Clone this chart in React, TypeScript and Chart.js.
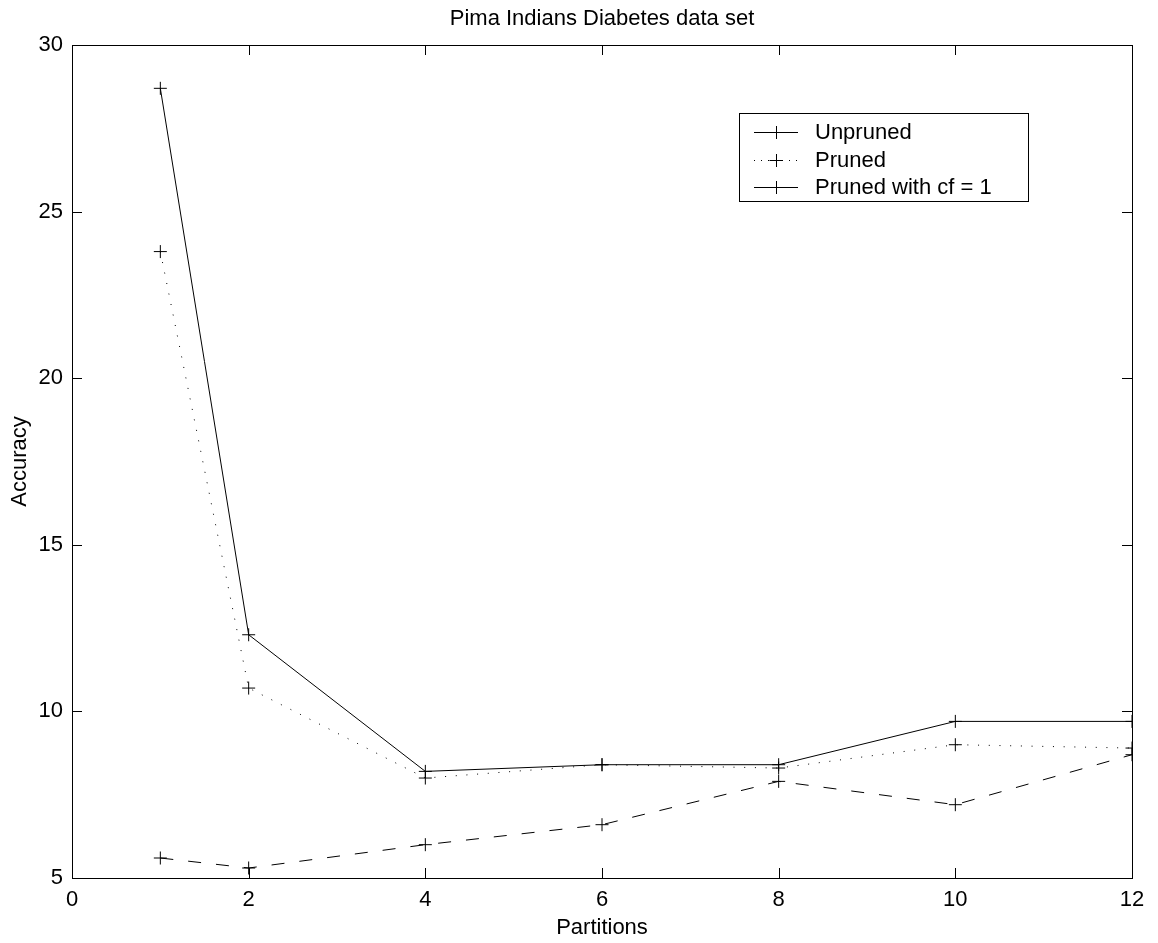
import React, { useEffect, useRef } from "react";
import { Chart, registerables } from "chart.js";

Chart.register(...registerables);

const partitions = [1, 2, 4, 6, 8, 10, 12];
const unpruned = [28.7, 12.3, 8.2, 8.4, 8.4, 9.7, 9.7];
const pruned = [23.8, 10.7, 8.0, 8.4, 8.3, 9.0, 8.9];
const prunedCf1 = [5.6, 5.3, 6.0, 6.6, 7.9, 7.2, 8.7];

const seriesNames = ["Unpruned", "Pruned", "Pruned with cf = 1"];
const xTicks = [0, 2, 4, 6, 8, 10, 12];
const yTicks = [5, 10, 15, 20, 25, 30];

const chartTitle = "Pima Indians Diabetes data set";
const xTitle = "Partitions";
const yTitle = "Accuracy";

const FONT = '"Liberation Sans", Arial, Helvetica, sans-serif';
const FS = 22;

const dashes = [[], [1, 9.7], [13, 15]];
const legendDashes = [[], [1, 6], []];

const framePlugin = {
  id: "matlabFrame",
  afterDraw(chart: any) {
    const { ctx, chartArea, scales } = chart;
    const { left, right, top, bottom } = chartArea;
    ctx.save();
    ctx.strokeStyle = "#000";
    ctx.lineWidth = 1;
    ctx.setLineDash([]);
    const tl = 10;
    ctx.beginPath();
    for (const v of xTicks) {
      const x = Math.round(scales.x.getPixelForValue(v)) + 0.5;
      ctx.moveTo(x, bottom);
      ctx.lineTo(x, bottom - tl);
      ctx.moveTo(x, top);
      ctx.lineTo(x, top + tl);
    }
    for (const v of yTicks) {
      const y = Math.round(scales.y.getPixelForValue(v)) + 0.5;
      ctx.moveTo(left, y);
      ctx.lineTo(left + tl, y);
      ctx.moveTo(right, y);
      ctx.lineTo(right - tl, y);
    }
    ctx.stroke();
    ctx.strokeRect(Math.round(left) + 0.5, Math.round(top) + 0.5, Math.round(right - left), Math.round(bottom - top));

    ctx.fillStyle = "#000";
    ctx.font = `${FS}px ${FONT}`;
    ctx.textAlign = "center";
    ctx.textBaseline = "middle";
    ctx.fillText(chartTitle, (left + right) / 2, 19);

    const bx = 739.5, by = 113.5, bw = 289, bh = 88;
    ctx.fillStyle = "#fff";
    ctx.fillRect(bx, by, bw, bh);
    ctx.strokeStyle = "#000";
    ctx.lineWidth = 1;
    ctx.strokeRect(bx, by, bw, bh);
    const rows = [132, 160, 187];
    chart.data.datasets.forEach((ds: any, i: number) => {
      const y = rows[i] + 0.5;
      ctx.save();
      ctx.setLineDash(legendDashes[i]);
      ctx.beginPath();
      ctx.moveTo(754, y);
      ctx.lineTo(798, y);
      ctx.stroke();
      ctx.restore();
      ctx.beginPath();
      ctx.moveTo(776 - 6.5, y);
      ctx.lineTo(776 + 6.5, y);
      ctx.moveTo(776.5, y - 6.5);
      ctx.lineTo(776.5, y + 6.5);
      ctx.stroke();
      ctx.fillStyle = "#000";
      ctx.font = `${FS}px ${FONT}`;
      ctx.textAlign = "left";
      ctx.textBaseline = "middle";
      ctx.fillText(ds.label, 815, rows[i] + 1);
    });
    ctx.restore();
  },
};

export default function App() {
  const ref = useRef<HTMLCanvasElement>(null);
  useEffect(() => {
    if (!ref.current) return;
    const series = [unpruned, pruned, prunedCf1];
    const chart = new Chart(ref.current, {
      type: "line",
      data: {
        datasets: series.map((vals, i) => ({
          label: seriesNames[i],
          data: partitions.map((p, j) => ({ x: p, y: vals[j] })),
          borderColor: "#000",
          backgroundColor: "#000",
          borderWidth: 1,
          borderDash: dashes[i],
          pointStyle: "cross",
          pointRadius: 6.5,
          pointBorderWidth: 1,
          pointBorderColor: "#000",
          pointHoverRadius: 6.5,
          tension: 0,
          fill: false,
          clip: 0,
        })),
      },
      options: {
        responsive: false,
        animation: false,
        devicePixelRatio: 1,
        layout: { padding: { top: 45, right: 26, left: 0, bottom: 0 } },
        plugins: {
          legend: { display: false },
          title: { display: false },
          tooltip: { enabled: false },
        },
        events: [],
        scales: {
          x: {
            type: "linear",
            min: 0,
            max: 12,
            grid: { display: false, drawTicks: false },
            border: { display: false },
            ticks: {
              stepSize: 2,
              color: "#000",
              font: { family: FONT, size: FS },
              padding: 9,
              maxRotation: 0,
            },
            title: {
              display: true,
              text: xTitle,
              color: "#000",
              font: { family: FONT, size: FS },
              padding: { top: 0, bottom: 2 },
            },
            afterFit(scale: any) {
              scale.height = 65;
            },
          },
          y: {
            type: "linear",
            min: 5,
            max: 30,
            grid: { display: false, drawTicks: false },
            border: { display: false },
            ticks: {
              stepSize: 5,
              color: "#000",
              font: { family: FONT, size: FS },
              padding: 9,
            },
            title: {
              display: true,
              text: yTitle,
              color: "#000",
              font: { family: FONT, size: FS },
              padding: { top: 7, bottom: 0 },
            },
            afterFit(scale: any) {
              scale.width = 72;
            },
          },
        },
      },
      plugins: [framePlugin],
    });
    return () => chart.destroy();
  }, []);
  return (
    <div style={{ position: "absolute", left: 0, top: 0, width: 1158, height: 943, background: "#fff" }}>
      <canvas ref={ref} width={1158} height={943} style={{ display: "block" }} />
    </div>
  );
}
